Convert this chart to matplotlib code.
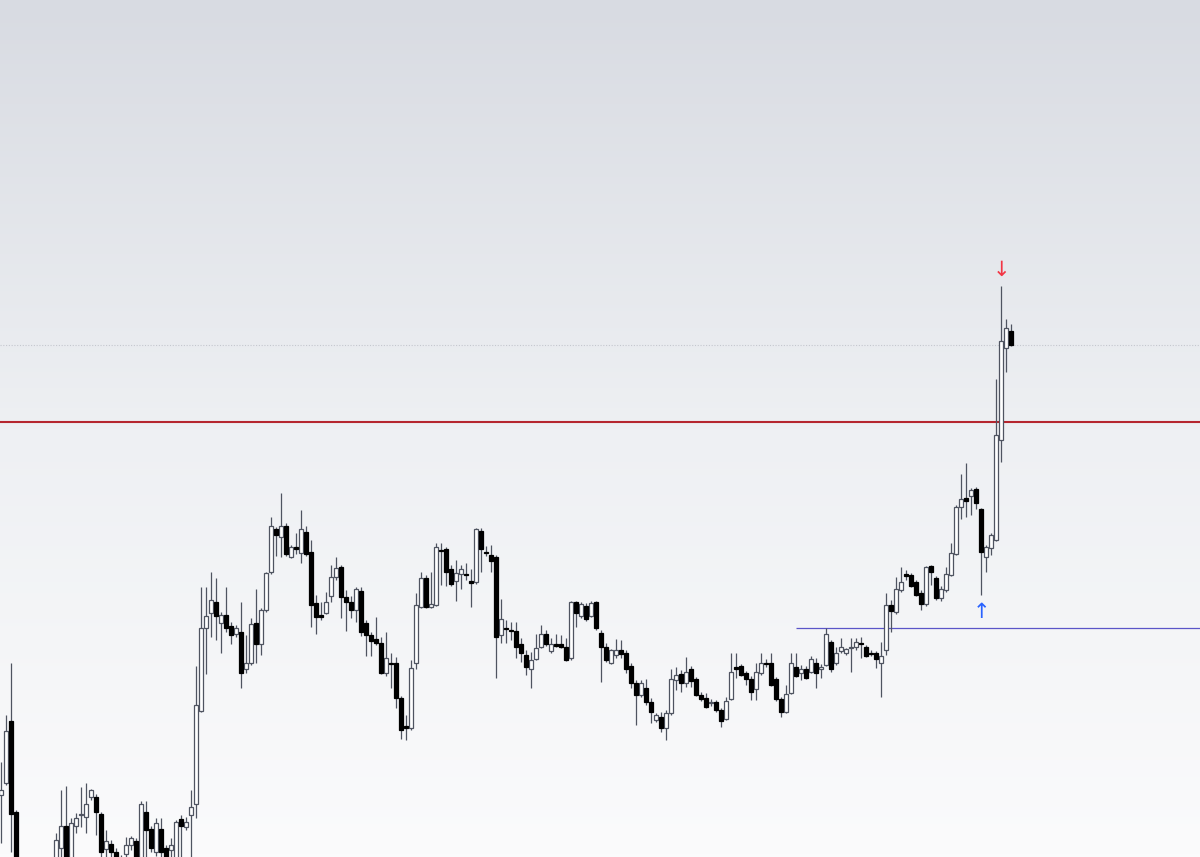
import numpy as np
import matplotlib.pyplot as plt
from matplotlib.colors import LinearSegmentedColormap

# OHLC per bar (price units)
opens = [105, 117, 179, 88, 30, 18, 25, 15, 22, 30, 24, 30, 52, 74, 35, 74, 85, 83, 103, 103,
         86, 51, 56, 48, 42, 46, 55, 59, 38, 88, 71, 48, 71, 52, 50, 38, 81, 73, 85, 96,
         189, 272, 287, 298, 277, 285, 274, 266, 268, 231, 237, 277, 256, 290, 328, 371, 363, 374, 343, 353,
         347, 368, 348, 297, 285, 287, 304, 323, 333, 303, 298, 290, 309, 277, 265, 261, 257, 227, 237, 237,
         202, 174, 172, 237, 293, 322, 293, 295, 350, 351, 331, 319, 326, 326, 319, 318, 369, 348, 345, 343,
         265, 272, 270, 269, 256, 245, 231, 241, 253, 266, 249, 256, 256, 253, 242, 298, 284, 294, 284, 298,
         267, 253, 237, 245, 250, 247, 234, 217, 205, 212, 198, 180, 183, 172, 187, 220, 226, 217, 231, 221,
         205, 202, 197, 198, 190, 181, 201, 233, 234, 227, 221, 211, 227, 237, 237, 221, 201, 188, 207, 233,
         227, 231, 228, 237, 231, 235, 258, 237, 249, 247, 252, 253, 257, 253, 247, 247, 237, 250, 295, 288,
         310, 326, 325, 318, 307, 296, 334, 322, 302, 310, 325, 346, 393, 402, 404, 411, 391, 343, 352, 360,
         460, 552, 569]
highs = [138, 185, 237, 90, 38, 30, 35, 28, 36, 40, 38, 67, 110, 114, 82, 87, 113, 117, 111, 106,
         88, 70, 60, 52, 45, 63, 64, 62, 99, 99, 74, 82, 82, 55, 62, 80, 85, 83, 110, 234,
         313, 313, 328, 322, 288, 313, 278, 275, 298, 265, 282, 311, 292, 328, 383, 373, 407, 377, 355, 367,
         390, 374, 360, 305, 298, 308, 335, 343, 335, 310, 304, 313, 313, 280, 268, 283, 263, 268, 247, 243,
         204, 185, 240, 307, 328, 325, 328, 357, 357, 353, 335, 340, 335, 337, 331, 372, 372, 354, 355, 345,
         301, 280, 278, 278, 262, 250, 248, 266, 275, 270, 262, 266, 265, 262, 299, 299, 298, 297, 299, 299,
         270, 257, 251, 261, 260, 250, 237, 220, 220, 221, 202, 187, 188, 190, 231, 233, 230, 243, 234, 223,
         208, 207, 201, 200, 192, 203, 247, 247, 236, 229, 224, 237, 247, 241, 247, 223, 203, 215, 247, 247,
         235, 234, 244, 242, 236, 272, 260, 253, 262, 252, 262, 262, 263, 255, 250, 249, 258, 307, 300, 323,
         333, 330, 327, 320, 310, 334, 335, 324, 314, 333, 357, 395, 426, 437, 412, 413, 392, 355, 367, 521,
         614, 581, 576]
lows = [57, 115, 48, 20, 10, 5, 12, 8, 14, 18, 16, 20, 40, 25, 30, 67, 73, 67, 100, 65,
        43, 40, 40, 34, 32, 40, 50, 32, 32, 43, 48, 44, 40, 38, 35, 30, 43, 70, 43, 82,
        188, 226, 263, 260, 247, 268, 256, 263, 212, 227, 235, 237, 245, 288, 326, 344, 343, 344, 342, 346,
        337, 344, 273, 266, 280, 286, 298, 320, 282, 269, 282, 278, 264, 244, 244, 255, 226, 224, 212, 192,
        161, 160, 170, 231, 292, 292, 292, 294, 315, 314, 314, 299, 311, 320, 293, 316, 328, 344, 328, 222,
        257, 257, 260, 242, 238, 225, 212, 240, 252, 254, 247, 253, 252, 239, 240, 273, 282, 279, 283, 270,
        218, 238, 236, 242, 242, 227, 212, 175, 203, 195, 177, 178, 168, 160, 185, 210, 208, 213, 213, 204,
        199, 192, 194, 188, 173, 180, 200, 222, 224, 215, 200, 200, 225, 233, 214, 199, 183, 187, 206, 223,
        220, 221, 227, 212, 222, 234, 228, 235, 247, 245, 228, 250, 242, 243, 244, 232, 203, 245, 268, 286,
        308, 320, 313, 304, 290, 294, 315, 300, 299, 308, 324, 345, 381, 383, 385, 391, 305, 328, 345, 359,
        438, 528, 554]
closes = [110, 169, 86, 30, 18, 25, 15, 22, 30, 24, 32, 60, 74, 35, 77, 82, 86, 96, 110, 88,
          48, 59, 48, 38, 38, 55, 62, 38, 96, 70, 52, 77, 48, 42, 55, 78, 74, 78, 93, 195,
          272, 284, 300, 284, 285, 272, 265, 272, 227, 237, 276, 256, 290, 327, 374, 365, 374, 346, 353, 351,
          371, 346, 295, 283, 283, 298, 323, 332, 303, 298, 290, 311, 268, 265, 259, 257, 227, 242, 236, 202,
          170, 172, 232, 295, 322, 293, 296, 353, 349.5, 328, 316, 327, 331, 325, 317, 371, 351, 347, 339, 263,
          281, 271, 269, 253, 247, 233, 240, 252, 266, 256, 256, 254, 253, 240, 298, 287, 296, 281, 297, 272,
          253, 240, 250, 250, 246, 231, 217, 205, 217, 198, 188, 185, 172, 187, 221, 225, 217, 228, 219, 205,
          201, 193, 198, 190, 179, 199, 228, 231, 225, 221, 208, 228, 237, 236, 215, 201, 188, 206, 237, 224,
          231, 222, 241, 227, 233, 266, 231, 247, 253, 251, 253, 258, 256, 244, 246, 241, 244, 295, 289, 311,
          318, 324, 314, 305, 296, 333, 328, 302, 311, 326, 347, 393, 401, 399, 410, 397, 348, 353, 365, 465,
          559, 572, 555]

last_price = 555
resistance = 478
breakout_level = 272
breakout_start = 159
sell_bar, sell_price = 200, 630
buy_bar, buy_price = 196, 288

opens = np.array(opens, dtype=float)
highs = np.array(highs, dtype=float)
lows = np.array(lows, dtype=float)
closes = np.array(closes, dtype=float)
idx = np.arange(len(opens))
up = closes >= opens

fig = plt.figure(figsize=(12, 8.57), dpi=100)
ax = fig.add_axes([0, 0, 1, 1])
ax.set_xlim(-0.2, 239.8)
ax.set_ylim(43, 900)
ax.axis("off")

# background gradient
bg = LinearSegmentedColormap.from_list("bg", ["#fbfbfc", "#eef0f3", "#d8dbe2"])
grad = np.linspace(0, 1, 256).reshape(-1, 1)
ax.imshow(grad, cmap=bg, aspect="auto", origin="lower",
          extent=(-0.2, 239.8, 43, 900), zorder=0)

# levels
ax.axhline(last_price, color="#c4c7ce", lw=0.8, ls=(0, (1, 1.5)), zorder=1)
ax.axhline(resistance, color="#b5262e", lw=1.5, zorder=1)
ax.hlines(breakout_level, breakout_start, 239.8, color="#5a55c8", lw=0.9, zorder=1)

# wicks
ax.vlines(idx, lows, highs, color="#4f5461", lw=0.9, zorder=2)

# bodies
body_lo = np.minimum(opens, closes)
body_h = np.maximum(np.abs(closes - opens), 0.8)
ax.bar(idx[up], body_h[up], bottom=body_lo[up], width=0.72,
       color="white", edgecolor="#4f5461", linewidth=0.9, zorder=3)
ax.bar(idx[~up], body_h[~up], bottom=body_lo[~up], width=0.72,
       color="black", edgecolor="black", linewidth=0.9, zorder=3)

# signal arrows
ax.text(sell_bar, sell_price, "↓", color="#f23645", fontsize=15,
        ha="center", va="center", zorder=4)
ax.text(buy_bar, buy_price, "↑", color="#2962ff", fontsize=15,
        ha="center", va="center", zorder=4)

fig.savefig("out.png", dpi=100)
